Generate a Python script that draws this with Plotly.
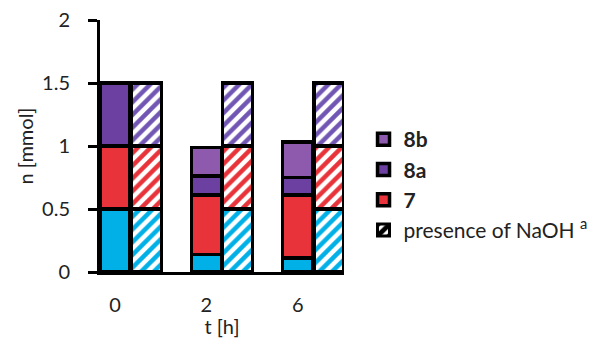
import plotly.graph_objects as go

# Reaction times and composition of the product mixture (mmol)
times = ["0", "2", "6"]
cyan_vals = [0.50, 0.14, 0.11]
p7_vals = [0.50, 0.47, 0.50]
p8a_vals = [0.50, 0.15, 0.14]
p8b_vals = [0.00, 0.23, 0.28]

# Same runs in the presence of NaOH
naoh_cyan = [0.50, 0.50, 0.50]
naoh_7 = [0.50, 0.50, 0.50]
naoh_8 = [0.50, 0.50, 0.50]

CYAN = "#00B0E6"
RED = "#E8333A"
PURPLE_A = "#6B40A0"
PURPLE_B = "#8E5AAE"
PURPLE_H = "#7256B4"

BAR_W = 0.33
SHIFT = 0.342
idx = list(range(len(times)))
x_solid = idx
x_hatch = [i + SHIFT for i in idx]
edge = dict(color="black", width=3.5)

fig = go.Figure()

solid = [
    ("cyan", cyan_vals, CYAN, None, 9),
    ("7", p7_vals, RED, "<b>7</b>", 3),
    ("8a", p8a_vals, PURPLE_A, "<b>8a</b>", 2),
    ("8b", p8b_vals, PURPLE_B, "<b>8b</b>", 1),
]
for key, vals, col, label, rank in solid:
    fig.add_trace(go.Bar(
        x=x_solid, y=vals, width=BAR_W, name=label or key,
        marker=dict(color=col, line=edge),
        showlegend=label is not None, legendgroup=key, legendrank=rank,
    ))

hatched = [
    ("cyan", naoh_cyan, CYAN),
    ("7", naoh_7, RED),
    ("8a", naoh_8, PURPLE_H),
]
for key, vals, col in hatched:
    fig.add_trace(go.Bar(
        x=x_hatch, y=vals, width=BAR_W, name=key,
        marker=dict(color="white", line=edge,
                    pattern=dict(shape="/", fgcolor=col, bgcolor="white",
                                 fgopacity=1, size=9, solidity=0.5)),
        showlegend=False, legendgroup=key,
    ))

# Legend key for the NaOH series
fig.add_trace(go.Bar(
    x=[None], y=[None], name="presence of NaOH <sup>a</sup>",
    marker=dict(color="white", line=dict(color="black", width=3),
                pattern=dict(shape="/", fgcolor="black", bgcolor="white",
                             fgopacity=1, size=14, solidity=0.6)),
    legendgroup="naoh", legendrank=4,
))

font = "Lato, Open Sans, sans-serif"
fig.update_layout(
    width=605, height=338,
    margin=dict(l=100, r=257, t=20, b=66),
    paper_bgcolor="white", plot_bgcolor="white",
    barmode="stack",
    font=dict(family=font, size=20, color="#222222"),
    showlegend=True,
    legend=dict(x=1.08, y=0.345, xanchor="left", yanchor="middle",
                traceorder="normal", tracegroupgap=5,
                font=dict(size=21, color="#222222")),
    xaxis=dict(
        range=[-BAR_W / 2, 2 + SHIFT + BAR_W / 2],
        tickvals=idx, ticktext=times,
        showline=True, linecolor="black", linewidth=3,
        ticks="", showgrid=False, zeroline=False,
        ticklabelstandoff=13, automargin=False,
        title=dict(text="t [h]", standoff=6, font=dict(size=20)),
    ),
    yaxis=dict(
        range=[0, 2], tickvals=[0, 0.5, 1, 1.5, 2],
        ticktext=["0", "0.5", "1", "1.5", "2"],
        showline=True, linecolor="black", linewidth=3,
        ticks="outside", ticklen=9, tickwidth=3, tickcolor="black",
        showgrid=False, zeroline=False,
        ticklabelstandoff=14, automargin=False,
        title=dict(text="n [mmol]", standoff=4, font=dict(size=20)),
    ),
)

fig.write_html("out.html")
